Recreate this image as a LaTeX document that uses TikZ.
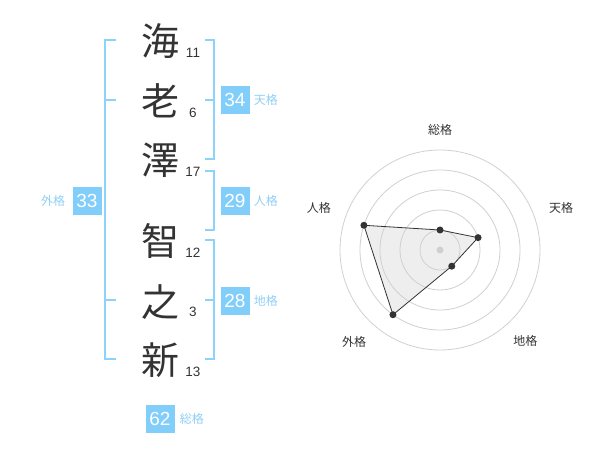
\documentclass[tikz,border=0pt]{standalone}
\usepackage{fontspec}
\setmainfont{Liberation Sans}
\newfontfamily\jpfont{Noto Sans CJK JP}
\usepackage{xcolor}
\usepackage{tikz}
\usetikzlibrary{positioning}
\definecolor{boxblue}{RGB}{130,206,250}
\definecolor{lineblue}{RGB}{140,210,250}
\definecolor{tagblue}{RGB}{143,207,245}
\definecolor{inkgray}{RGB}{51,51,51}
\definecolor{ringgray}{RGB}{208,208,208}
\definecolor{polyfill}{RGB}{238,238,238}

\begin{document}
\begin{tikzpicture}[x=1pt, y=-1pt, inner sep=0pt,
  bracket/.style={draw=lineblue, line width=2pt},
  ring/.style={draw=ringgray, line width=0.8pt}]

\useasboundingbox (0,0) rectangle (600,470);

\tikzstyle{kanji}=[font=\jpfont\fontsize{38}{38}\selectfont, text=inkgray]
\tikzstyle{strokes}=[font=\fontsize{13.5}{13.5}\selectfont, text=inkgray]
\tikzstyle{score}=[fill=boxblue, text=white, minimum width=29pt, minimum height=28pt, font=\fontsize{19}{19}\selectfont]
\tikzstyle{tag}=[font=\jpfont\fontsize{12}{12}\selectfont, text=tagblue]
\tikzstyle{axis}=[font=\jpfont\fontsize{12}{12}\selectfont, text=inkgray]

\node[kanji] (k1) at (160,41) {海};
\node[kanji] (k2) at (160,101) {老};
\node[kanji] (k3) at (160,160) {澤};
\node[kanji] (k4) at (160,241) {智};
\node[kanji] (k5) at (160,302) {之};
\node[kanji] (k6) at (160,360) {新};

\node[strokes] (n1) at (193,53) {11};
\node[strokes] (n2) at (193,113) {6};
\node[strokes] (n3) at (193,172) {17};
\node[strokes] (n4) at (193,253) {12};
\node[strokes] (n5) at (193,312) {3};
\node[strokes] (n6) at (193,372) {13};

\draw[bracket] (116,40) -- (105,40) -- (105,359) -- (116,359);
\draw[bracket] (105,100) -- (116,100);
\draw[bracket] (105,300) -- (116,300);
\draw[bracket] (205,40) -- (214,40) -- (214,159) -- (205,159);
\draw[bracket] (214,100) -- (205,100);
\draw[bracket] (205,171) -- (214,171) -- (214,230) -- (205,230);
\draw[bracket] (205,240) -- (214,240) -- (214,359) -- (205,359);
\draw[bracket] (214,300) -- (205,300);

\node[score] (ten) at (235,100) {34};
\node[score] (jin) at (235,201) {29};
\node[score] (chi) at (235,301) {28};
\node[score] (gai) at (87,201) {33};
\node[score] (sou) at (160,419) {62};

\node[tag] (tenl) [right=4pt of ten] {天格};
\node[tag] (jinl) [right=4pt of jin] {人格};
\node[tag] (chil) [right=4pt of chi] {地格};
\node[tag] (gail) [left=7pt of gai] {外格};
\node[tag] (soul) [right=5pt of sou] {総格};

\begin{scope}[shift={(440,250)}, y=1pt]
\coordinate (p1) at (90:20);
\coordinate (p2) at (18:40);
\coordinate (p3) at (-54:20);
\coordinate (p4) at (-126:80);
\coordinate (p5) at (162:80);
\fill[polyfill] (p1) -- (p2) -- (p3) -- (p4) -- (p5) -- cycle;
\foreach \r in {20,40,...,100}
  \draw[ring] (0,0) circle (\r pt);
\fill[ringgray] (0,0) circle (3.5pt);
\draw[inkgray, line width=0.8pt] (p1) -- (p2) -- (p3) -- (p4) -- (p5) -- cycle;
\foreach \p in {p1,p2,p3,p4,p5}
  \fill[inkgray] (\p) circle (3.5pt);
\node[axis] (a1) at (90:120) {総格};
\node[axis] (a2) at (19:128) {天格};
\node[axis] (a3) at (-47:125) {地格};
\node[axis] (a4) at (-133:126) {外格};
\node[axis] (a5) at (161:128) {人格};
\end{scope}

\end{tikzpicture}
\end{document}
